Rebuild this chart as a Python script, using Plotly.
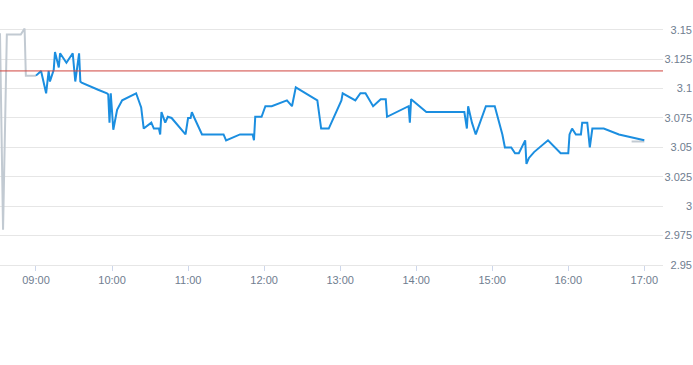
import plotly.graph_objects as go
import pandas as pd

DAY = "2024-01-02 "

pre_times = ["08:31:36", "08:34:00", "08:37:00", "08:48:00", "08:51:00", "08:52:00", "09:00:00"]
pre_values = [3.147, 2.980, 3.146, 3.146, 3.151, 3.111, 3.111]

main_times = [
    "09:00", "09:04", "09:08", "09:10", "09:11", "09:14", "09:15", "09:18", "09:19", "09:24",
    "09:29", "09:31", "09:34", "09:35", "09:36", "09:44", "09:49", "09:56", "09:57", "09:58",
    "09:59", "10:01", "10:04", "10:08", "10:19", "10:23", "10:25", "10:31", "10:33", "10:37",
    "10:38", "10:39", "10:42", "10:44", "10:47", "10:58", "11:00", "11:02", "11:03", "11:05",
    "11:11", "11:28", "11:30", "11:41", "11:51", "11:52", "11:53", "11:58", "12:01", "12:06",
    "12:18", "12:22", "12:25", "12:42", "12:45", "12:51", "13:01", "13:02", "13:12", "13:16",
    "13:20", "13:26", "13:32", "13:36", "13:37", "13:54", "13:55", "13:56", "14:08", "14:38",
    "14:40", "14:41", "14:44", "14:47", "14:55", "15:02", "15:08", "15:10", "15:15", "15:18",
    "15:21", "15:26", "15:27", "15:29", "15:33", "15:44", "15:54", "16:00", "16:01", "16:03",
    "16:06", "16:10", "16:11", "16:15", "16:17", "16:19", "16:28", "16:40", "17:00",
]
main_values = [
    3.111, 3.115, 3.096, 3.115, 3.106, 3.116, 3.131, 3.118, 3.130, 3.122,
    3.130, 3.106, 3.130, 3.106, 3.105, 3.101, 3.099, 3.096, 3.095, 3.071,
    3.096, 3.065, 3.082, 3.090, 3.096, 3.084, 3.066, 3.071, 3.066, 3.066,
    3.061, 3.080, 3.071, 3.076, 3.075, 3.061, 3.075, 3.075, 3.080, 3.075,
    3.061, 3.061, 3.056, 3.061, 3.061, 3.056, 3.076, 3.076, 3.085, 3.085,
    3.090, 3.085, 3.101, 3.090, 3.066, 3.066, 3.090, 3.096, 3.090, 3.096,
    3.096, 3.085, 3.091, 3.091, 3.076, 3.085, 3.071, 3.091, 3.080, 3.080,
    3.066, 3.085, 3.071, 3.061, 3.085, 3.085, 3.061, 3.050, 3.050, 3.045,
    3.045, 3.056, 3.036, 3.041, 3.046, 3.056, 3.045, 3.045, 3.061, 3.066,
    3.061, 3.061, 3.071, 3.071, 3.050, 3.066, 3.066, 3.061, 3.056,
]

post_times = ["16:50", "17:00"]
post_values = [3.055, 3.055]

prev_close = 3.115

y_tickvals = [3.15, 3.125, 3.1, 3.075, 3.05, 3.025, 3.0, 2.975, 2.95]
y_ticktext = ["3.15", "3.125", "3.1", "3.075", "3.05", "3.025", "3", "2.975", "2.95"]

x_range = ["08:31:36", "17:14:45"]
y_range = [2.95, 3.16]


def to_dt(ts):
    return pd.to_datetime([DAY + t for t in ts], format="mixed")


fig = go.Figure()
fig.add_trace(go.Scatter(x=to_dt(pre_times), y=pre_values, mode="lines",
                         line=dict(color="#c2cad2", width=2), hoverinfo="skip"))
fig.add_trace(go.Scatter(x=to_dt(post_times), y=post_values, mode="lines",
                         line=dict(color="#c2cad2", width=2), hoverinfo="skip"))
fig.add_trace(go.Scatter(x=to_dt(main_times), y=main_values, mode="lines",
                         line=dict(color="#1b8ee0", width=2)))

fig.add_shape(type="line", xref="x domain", x0=0, x1=1, yref="y",
              y0=prev_close, y1=prev_close, line=dict(color="#d0443e", width=1))

fig.update_layout(
    width=693, height=365,
    margin=dict(l=0, r=0, t=18, b=100),
    paper_bgcolor="white", plot_bgcolor="white",
    showlegend=False,
    font=dict(family="Liberation Sans, Arial, sans-serif", size=11, color="#707e90"),
    xaxis=dict(
        domain=[0, 663 / 693],
        range=list(to_dt(x_range)),
        type="date",
        tick0=DAY + "09:00",
        dtick=3600000,
        tickformat="%H:%M",
        showgrid=False,
        ticks="outside", ticklen=5, tickcolor="#ccd6eb",
        showline=True, linecolor="#e6e6e6", linewidth=1,
        tickfont=dict(color="#6f7d8f", size=11),
        zeroline=False,
        automargin=False,
    ),
    yaxis=dict(
        range=y_range,
        tickvals=y_tickvals,
        ticktext=y_ticktext,
        side="left", anchor="free", position=1.0,
        showgrid=True, gridcolor="#e6e6e6", gridwidth=1,
        ticks="", showline=False, zeroline=False,
        tickfont=dict(color="#6f7d8f", size=11),
        ticklabelstandoff=1,
        automargin=False,
    ),
)

fig.write_html("out.html", config={"displayModeBar": False},
               post_script="document.body.style.margin='0';")
